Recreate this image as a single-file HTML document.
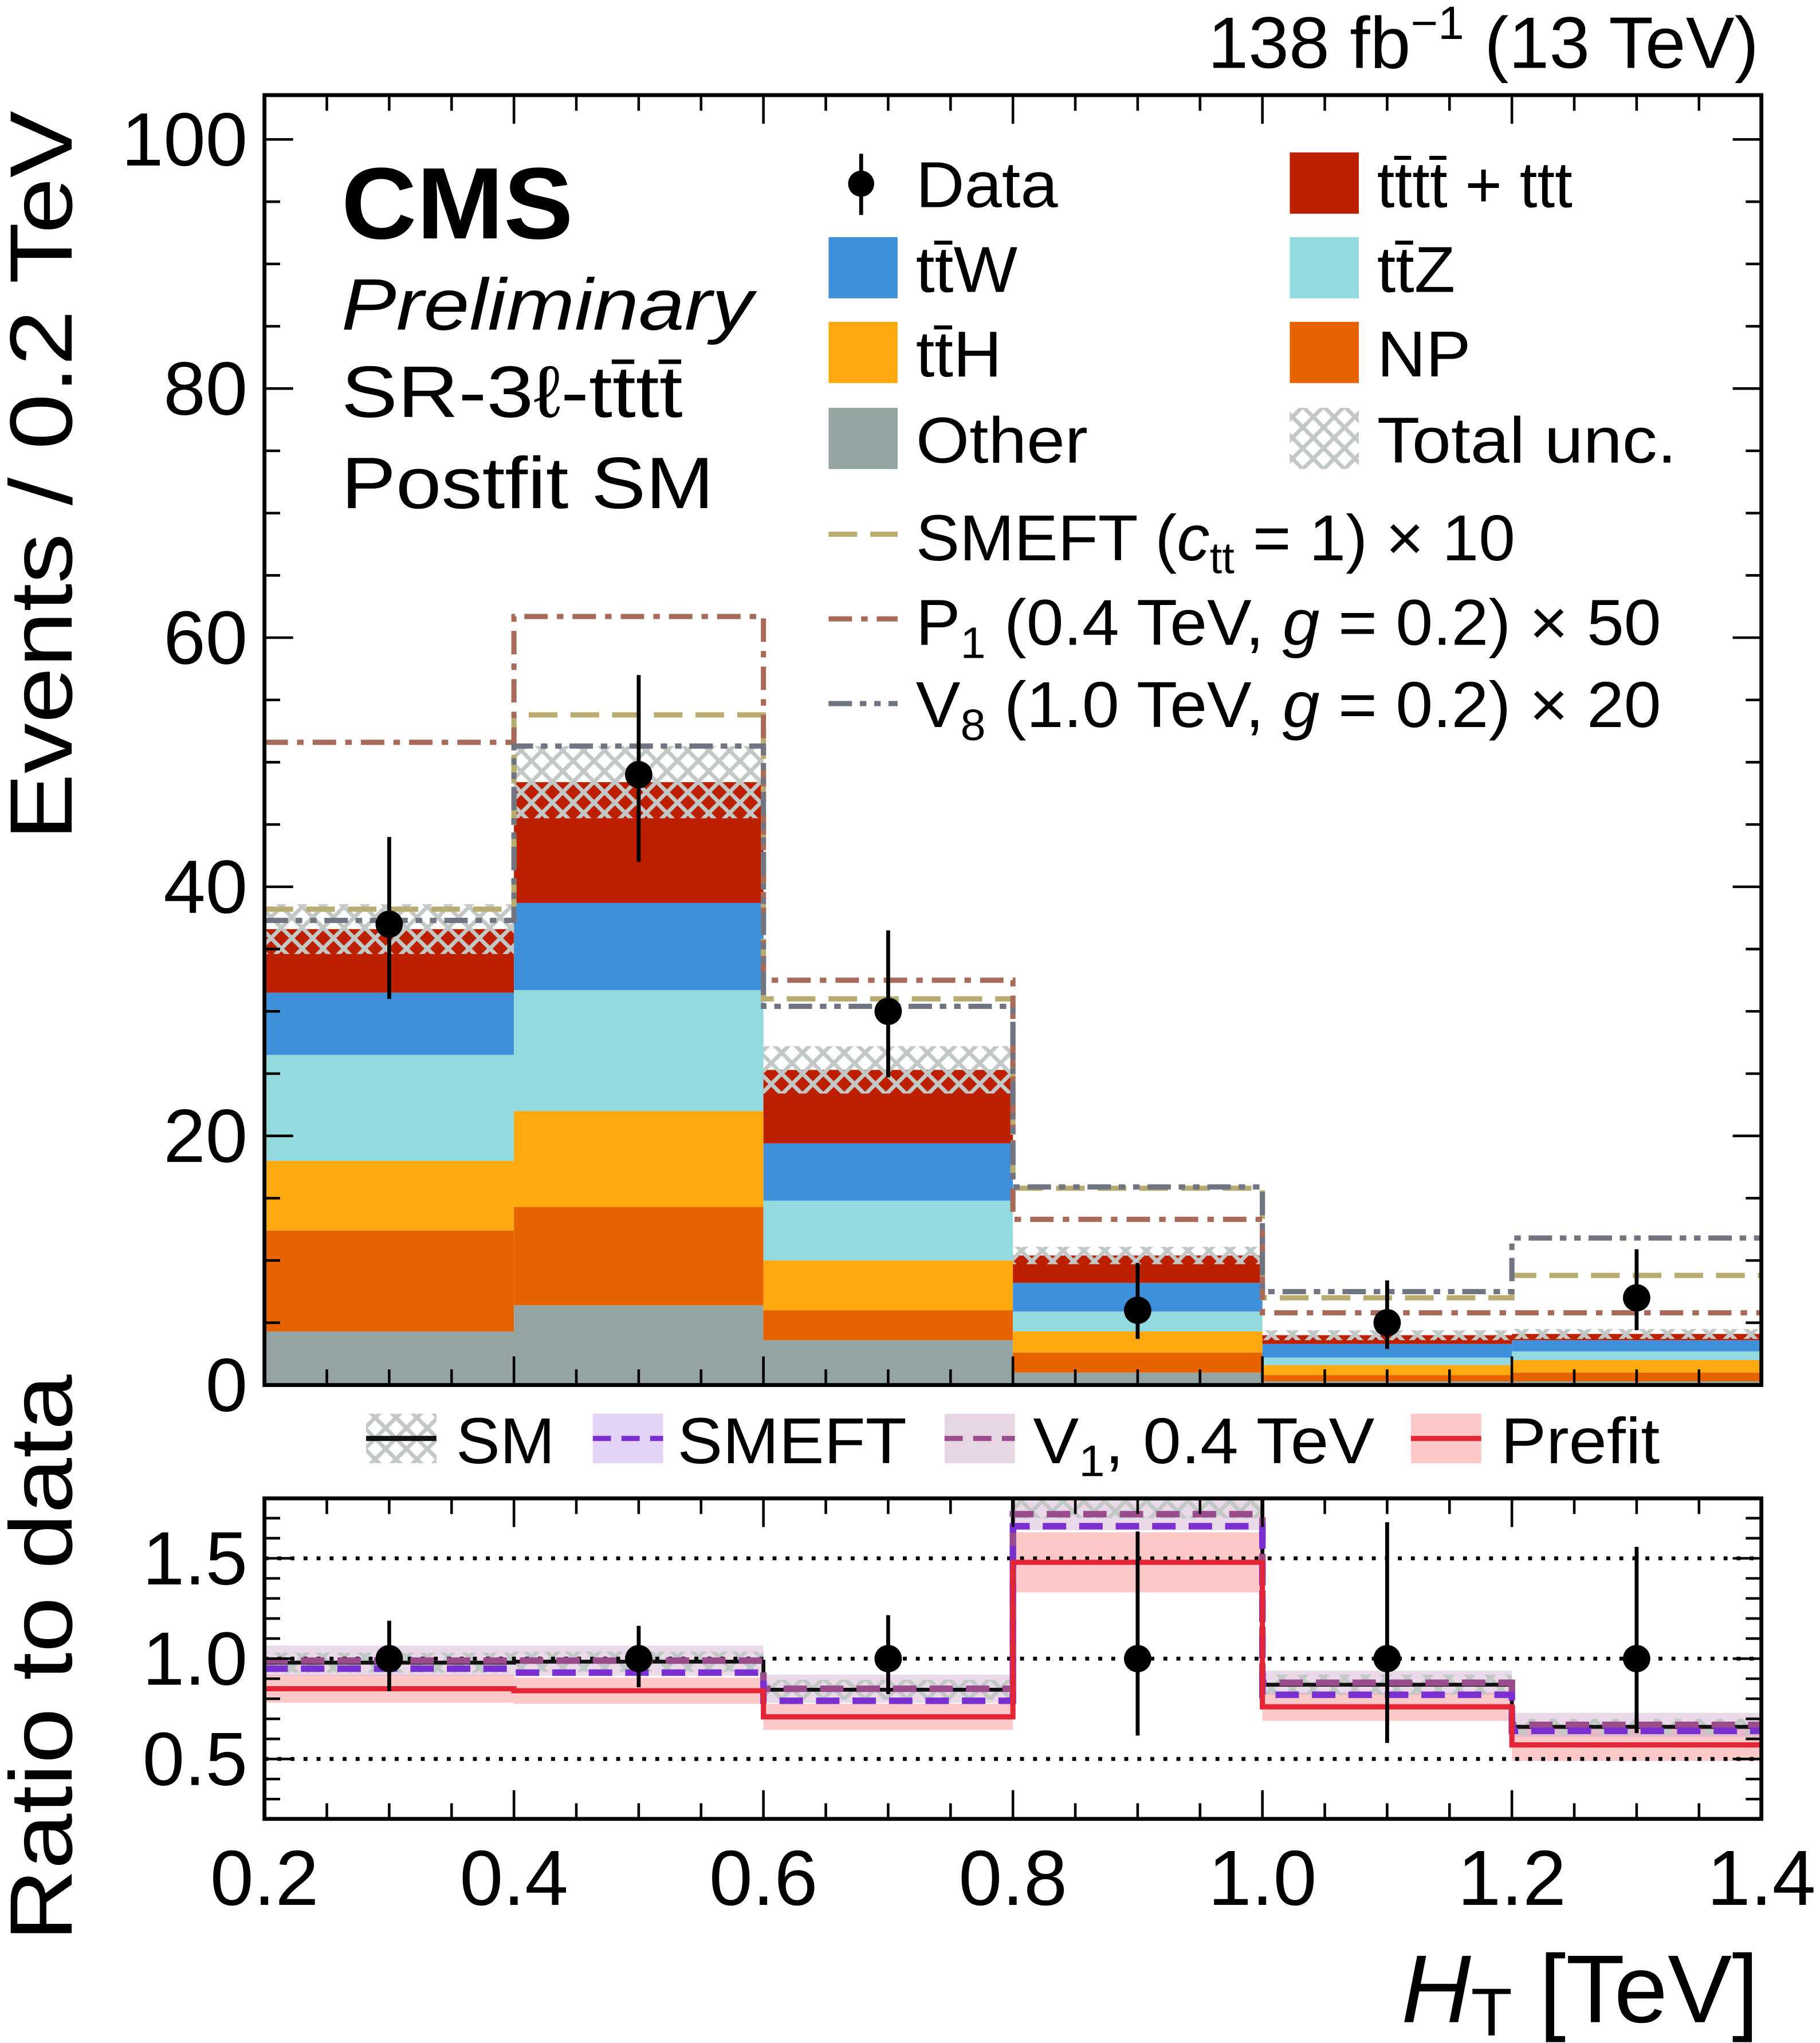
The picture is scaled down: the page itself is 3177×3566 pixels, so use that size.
<!DOCTYPE html>
<html><head><meta charset="utf-8">
<style>
html,body{margin:0;padding:0;background:#fff;}
svg{display:block;}
text{font-family:"Liberation Sans",sans-serif;fill:#000;}
</style></head>
<body>
<svg id="chart" width="3177" height="3566" viewBox="0 0 1397 1568" preserveAspectRatio="none" xmlns="http://www.w3.org/2000/svg">
<defs>
<pattern id="hatch" patternUnits="userSpaceOnUse" width="16" height="16">
<path d="M0,0 L16,16 M16,0 L0,16" stroke="#c2c8c6" stroke-width="3"/>
</pattern>
</defs>
<g id="main"></g>
<g id="ratio"></g>
<g id="labels">
<text x="1350" y="52" font-size="56" text-anchor="end">138 fb<tspan font-size="36" dy="-22">−1</tspan><tspan dy="22"> (13 TeV)</tspan></text>
<text x="262" y="183" font-size="78" font-weight="bold" textLength="178" lengthAdjust="spacingAndGlyphs">CMS</text>
<text x="262" y="253" font-size="56" font-style="italic" textLength="316" lengthAdjust="spacingAndGlyphs">Preliminary</text>
<text x="262" y="320" font-size="56" textLength="262" lengthAdjust="spacingAndGlyphs">SR-3ℓ-tt̄tt̄</text>
<text x="262" y="390" font-size="56" textLength="286" lengthAdjust="spacingAndGlyphs">Postfit SM</text>
<text transform="translate(55,645) rotate(-90)" font-size="68" textLength="560" lengthAdjust="spacingAndGlyphs">Events / 0.2 TeV</text>
<text transform="translate(55,1490) rotate(-90)" font-size="68" textLength="435" lengthAdjust="spacingAndGlyphs">Ratio to data</text>
<text x="1350" y="1552" font-size="74" text-anchor="end"><tspan font-style="italic">H</tspan><tspan font-size="52" dy="10">T</tspan><tspan dy="-10">    [TeV]</tspan></text>
</g>
<g id="legend"></g>
</svg>
<script>
// ---- data ----
const binEdges = [0.2, 0.4, 0.6, 0.8, 1.0, 1.2, 1.4];
const other = [4.3, 6.4, 3.6, 1.0, 0.3, 0.3];
const np = [8.1, 7.9, 2.4, 1.6, 0.5, 0.7];
const ttH = [5.6, 7.7, 4.0, 1.7, 0.8, 1.0];
const ttZ = [8.5, 9.7, 4.8, 1.6, 0.6, 0.7];
const ttW = [5.0, 7.0, 4.6, 2.3, 1.1, 0.9];
const tttt = [5.1, 9.7, 5.9, 2.2, 0.7, 0.5];
const totalUnc = [2.0, 2.9, 1.9, 0.7, 0.4, 0.4];
const dataVals = [37, 49, 30, 6, 5, 7];
const dataErrUp = [7, 8, 6.5, 3.8, 3.4, 3.9];
const dataErrDn = [6, 7, 5.3, 2.3, 2.1, 2.6];
const smeft = [38.2, 53.8, 31.0, 15.8, 7.0, 8.8];
const p1 = [51.6, 61.7, 32.5, 13.3, 5.8, 5.8];
const v8 = [37.3, 51.3, 30.4, 15.9, 7.5, 11.8];
const ratioSM = [0.98, 0.985, 0.845, 1.80, 0.87, 0.66];
const ratioSMUnc = [0.05, 0.05, 0.05, 0.1, 0.05, 0.04];
const ratioSMEFT = [0.95, 0.93, 0.79, 1.66, 0.82, 0.64];
const ratioV1 = [0.99, 0.99, 0.85, 1.72, 0.88, 0.67];
const ratioV1Unc = [0.075, 0.075, 0.07, 0.08, 0.06, 0.06];
const ratioPrefit = [0.85, 0.84, 0.71, 1.48, 0.76, 0.57];
const ratioPrefitUnc = [0.07, 0.065, 0.065, 0.15, 0.07, 0.08];
const yTicks = [0, 20, 40, 60, 80, 100];
const ratioTicks = [0.5, 1.0, 1.5];
const xTickLabels = ["0.2","0.4","0.6","0.8","1.0","1.2","1.4"];

// ---- axes ----
const X0 = 203, X1 = 1352;
const xs = v => X0 + (v - 0.2) / 1.2 * (X1 - X0);
const MY0 = 1063, MYT = 73;
const ys = v => MY0 - v * 9.56;
const RT = 1150, RB = 1396;
const yr = v => 1273 - (v - 1.0) * 154;
const NS = "http://www.w3.org/2000/svg";
function mk(parent, tag, attrs) {
  const e = document.createElementNS(NS, tag);
  for (const k in attrs) e.setAttribute(k, attrs[k]);
  parent.appendChild(e);
  return e;
}
const main = document.getElementById('main');
const ratio = document.getElementById('ratio');
const legend = document.getElementById('legend');

const comps = [
  {vals: other, color: '#94a4a2', name: 'other'},
  {vals: np, color: '#e76300', name: 'np'},
  {vals: ttH, color: '#ffa90e', name: 'tth'},
  {vals: ttZ, color: '#92dadd', name: 'ttz'},
  {vals: ttW, color: '#3f90da', name: 'ttw'},
  {vals: tttt, color: '#bd1f01', name: 'tttt'}
];
for (let i = 0; i < 6; i++) {
  let cum = 0;
  const xa = xs(binEdges[i]), xb = xs(binEdges[i+1]);
  comps.forEach(c => {
    const r = mk(main, 'rect', {x: xa, y: ys(cum + c.vals[i]), width: xb - xa, height: ys(cum) - ys(cum + c.vals[i]), fill: c.color});
    
    
    cum += c.vals[i];
  });
  const h = mk(main, 'rect', {x: xa, y: ys(cum + totalUnc[i]), width: xb - xa, height: ys(cum - totalUnc[i]) - ys(cum + totalUnc[i]), fill: 'url(#hatch)'});
  
  
}
function stepPath(vals, yf) {
  let d = '';
  for (let i = 0; i < vals.length; i++) {
    const xa = xs(binEdges[i]), xb = xs(binEdges[i+1]), y = yf(vals[i]);
    d += (i === 0 ? 'M' : 'L') + xa + ',' + y + ' L' + xb + ',' + y + ' ';
  }
  return d;
}
function bands(parent, vals, unc, fill, name) {
  for (let i = 0; i < vals.length; i++) {
    const xa = xs(binEdges[i]), xb = xs(binEdges[i+1]);
    const t = Math.max(yr(vals[i] + unc[i]), RT), b = Math.min(yr(vals[i] - unc[i]), RB);
    if (b <= t) continue;
    const r = mk(parent, 'rect', {x: xa, y: t, width: xb - xa, height: b - t, fill: fill});
    
    
  }
}
const sig = [
  {vals: smeft, color: '#b9ac70', dash: '22,10', name: 'smeft-line'},
  {vals: p1, color: '#a96b59', dash: '18,7,5,7', name: 'p1-line'},
  {vals: v8, color: '#717581', dash: '18,6,5,6,5,6', name: 'v8-line'}
];
sig.forEach(s => {
  const p = mk(main, 'path', {d: stepPath(s.vals, ys), fill: 'none', stroke: s.color, 'stroke-width': 4, 'stroke-dasharray': s.dash});
  
  
});
for (let i = 0; i < 6; i++) {
  const xc = xs((binEdges[i] + binEdges[i+1]) / 2);
  const l = mk(main, 'line', {x1: xc, x2: xc, y1: ys(dataVals[i] + dataErrUp[i]), y2: ys(dataVals[i] - dataErrDn[i]), stroke: '#000', 'stroke-width': 3});
  
  
  const c = mk(main, 'circle', {cx: xc, cy: ys(dataVals[i]), r: 10.5, fill: '#000'});
  
  
}
function ticksX(parent, yTop, yBot) {
  for (let k = 0; k <= 24; k++) {
    const v = 0.2 + k * 0.05, x = xs(v), len = (k % 4 === 0) ? 22 : 12;
    mk(parent, 'line', {x1: x, x2: x, y1: yBot, y2: yBot - len, stroke: '#000', 'stroke-width': 2});
    mk(parent, 'line', {x1: x, x2: x, y1: yTop, y2: yTop + len, stroke: '#000', 'stroke-width': 2});
  }
}
ticksX(main, MYT, MY0);
for (let v = 0; v <= 100; v += 5) {
  const y = ys(v), len = (v % 20 === 0) ? 22 : 12;
  mk(main, 'line', {x1: X0, x2: X0 + len, y1: y, y2: y, stroke: '#000', 'stroke-width': 2});
  mk(main, 'line', {x1: X1, x2: X1 - len, y1: y, y2: y, stroke: '#000', 'stroke-width': 2});
}
yTicks.forEach(v => {
  const t = mk(main, 'text', {x: 190, y: ys(v) + 20, 'font-size': 58, 'text-anchor': 'end'});
  t.textContent = String(v);
  
  
});
const f1 = mk(main, 'rect', {x: X0, y: MYT, width: X1 - X0, height: MY0 - MYT, fill: 'none', stroke: '#000', 'stroke-width': 3});



// ---- ratio panel ----
bands(ratio, ratioPrefit, ratioPrefitUnc, '#fcc8c8', 'prefit-band');
bands(ratio, ratioV1, ratioV1Unc, 'rgba(200,160,200,0.4)', 'v1-band');
bands(ratio, ratioSM, ratioSMUnc, 'url(#hatch)', 'sm-band');
ratioTicks.forEach(v => {
  const l = mk(ratio, 'line', {x1: X0, x2: X1, y1: yr(v), y2: yr(v), stroke: '#000', 'stroke-width': 3, 'stroke-dasharray': '3,7'});
  
  
  const t = mk(ratio, 'text', {x: 190, y: yr(v) + 20, 'font-size': 58, 'text-anchor': 'end'});
  t.textContent = v.toFixed(1);
  
  
});
function clampR(v) { return Math.min(Math.max(yr(v), RT), RB); }
const rl = [
  {vals: ratioSM, color: '#111', dash: '', w: 3, name: 'ratio-sm-line'},
  {vals: ratioV1, color: '#9a4c8c', dash: '18,10', w: 5, name: 'ratio-v1-line'},
  {vals: ratioSMEFT, color: '#7b2fd0', dash: '18,10', w: 5, name: 'ratio-smeft-line'},
  {vals: ratioPrefit, color: '#e42536', dash: '', w: 4, name: 'ratio-prefit-line'}
];
rl.forEach(s => {
  const p = mk(ratio, 'path', {d: stepPath(s.vals, clampR), fill: 'none', stroke: s.color, 'stroke-width': s.w});
  if (s.dash) p.setAttribute('stroke-dasharray', s.dash);
  
  
});
for (let i = 0; i < 6; i++) {
  const xc = xs((binEdges[i] + binEdges[i+1]) / 2);
  const up = 1 + dataErrUp[i] / dataVals[i], dn = 1 - dataErrDn[i] / dataVals[i];
  const l = mk(ratio, 'line', {x1: xc, x2: xc, y1: clampR(up), y2: clampR(dn), stroke: '#000', 'stroke-width': 3});
  
  
  const c = mk(ratio, 'circle', {cx: xc, cy: yr(1), r: 10.5, fill: '#000'});
  
  
}
ticksX(ratio, RT, RB);
for (let v = 0.2; v <= 1.8001; v += 0.1) {
  const y = yr(v), major = Math.abs(v * 2 - Math.round(v * 2)) < 1e-6, len = major ? 22 : 12;
  mk(ratio, 'line', {x1: X0, x2: X0 + len, y1: y, y2: y, stroke: '#000', 'stroke-width': 2});
  mk(ratio, 'line', {x1: X1, x2: X1 - len, y1: y, y2: y, stroke: '#000', 'stroke-width': 2});
}
const f2 = mk(ratio, 'rect', {x: X0, y: RT, width: X1 - X0, height: RB - RT, fill: 'none', stroke: '#000', 'stroke-width': 3});


xTickLabels.forEach((s, k) => {
  const t = mk(ratio, 'text', {x: xs(binEdges[k]), y: 1462, 'font-size': 60, 'text-anchor': 'middle'});
  t.textContent = s;
  
  
});

// ---- legend ----
function legText(x, y, str, name, len) {
  const t = mk(legend, 'text', {x: x, y: y, 'font-size': 50});
  if (len) { t.setAttribute('textLength', len); t.setAttribute('lengthAdjust', 'spacingAndGlyphs'); }
  t.innerHTML = str;
  
  
  return t;
}
mk(legend, 'line', {x1: 661, x2: 661, y1: 118, y2: 165, stroke: '#000', 'stroke-width': 3});
mk(legend, 'circle', {cx: 661, cy: 141, r: 10, fill: '#000'});
legText(703, 159, 'Data', 'legend-data', 109);
const boxes = [
  {x: 990, y: 117, fill: '#bd1f01', tx: 1057, ty: 159, label: 'tt̄tt̄ + ttt', name: 'legend-tttt', len: 150},
  {x: 636, y: 182, fill: '#3f90da', tx: 703, ty: 224, label: 'tt̄W', name: 'legend-ttw', len: 78},
  {x: 990, y: 182, fill: '#92dadd', tx: 1057, ty: 224, label: 'tt̄Z', name: 'legend-ttz', len: 60},
  {x: 636, y: 247, fill: '#ffa90e', tx: 703, ty: 289, label: 'tt̄H', name: 'legend-tth', len: 66},
  {x: 990, y: 247, fill: '#e76300', tx: 1057, ty: 289, label: 'NP', name: 'legend-np', len: 72},
  {x: 636, y: 313, fill: '#94a4a2', tx: 703, ty: 355, label: 'Other', name: 'legend-other', len: 132},
  {x: 990, y: 313, fill: 'url(#hatch)', tx: 1057, ty: 355, label: 'Total unc.', name: 'legend-total-unc', len: 230}
];
boxes.forEach(b => {
  const r = mk(legend, 'rect', {x: b.x, y: b.y, width: 53, height: 47, fill: b.fill});
  
  
  legText(b.tx, b.ty, b.label, b.name, b.len);
});
const lineLeg = [
  {y: 410, color: '#b9ac70', dash: '22,10', ty: 430, label: 'SMEFT (<tspan font-style="italic">c</tspan><tspan font-size="34" dy="10">tt</tspan><tspan dy="-10"> = 1) × 10</tspan>', name: 'legend-smeft', len: 460},
  {y: 475, color: '#a96b59', dash: '18,7,5,7', ty: 495, label: 'P<tspan font-size="34" dy="10">1</tspan><tspan dy="-10"> (0.4 TeV, </tspan><tspan font-style="italic">g</tspan> = 0.2) × 50', name: 'legend-p1', len: 572},
  {y: 540, color: '#717581', dash: '18,6,5,6,5,6', ty: 558, label: 'V<tspan font-size="34" dy="10">8</tspan><tspan dy="-10"> (1.0 TeV, </tspan><tspan font-style="italic">g</tspan> = 0.2) × 20', name: 'legend-v8', len: 572}
];
lineLeg.forEach(l => {
  mk(legend, 'line', {x1: 636, x2: 689, y1: l.y, y2: l.y, stroke: l.color, 'stroke-width': 4, 'stroke-dasharray': l.dash});
  legText(703, l.ty, l.label, l.name, l.len);
});
const rleg = [
  {x: 281, band: 'url(#hatch)', color: '#111', dash: '', tx: 350, label: 'SM', name: 'ratio-legend-sm', len: 76},
  {x: 455, band: '#e3d3f7', color: '#7b2fd0', dash: '14,8', tx: 520, label: 'SMEFT', name: 'ratio-legend-smeft', len: 176},
  {x: 725, band: '#e7d7e5', color: '#9a4c8c', dash: '14,8', tx: 793, label: 'V<tspan font-size="34" dy="10">1</tspan><tspan dy="-10">, 0.4 TeV</tspan>', name: 'ratio-legend-v1', len: 262},
  {x: 1083, band: '#fcc8c8', color: '#e42536', dash: '', tx: 1152, label: 'Prefit', name: 'ratio-legend-prefit', len: 122}
];
rleg.forEach(l => {
  const r = mk(legend, 'rect', {x: l.x, y: 1085, width: 54, height: 38, fill: l.band});
  
  
  const ln = mk(legend, 'line', {x1: l.x, x2: l.x + 54, y1: 1104, y2: 1104, stroke: l.color, 'stroke-width': 4});
  if (l.dash) ln.setAttribute('stroke-dasharray', l.dash);
  legText(l.tx, 1123, l.label, l.name, l.len);
});
</script>
</body></html>
